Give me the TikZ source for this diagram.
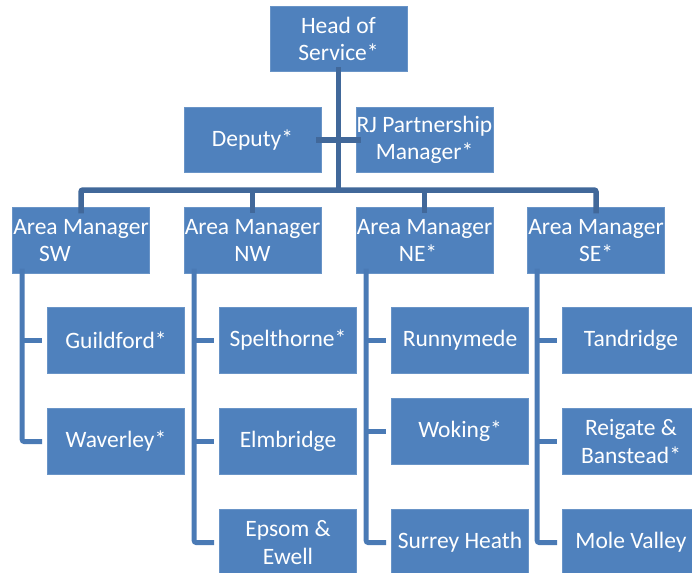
\documentclass[tikz,border=0pt]{standalone}
\usepackage{fontspec}
\setmainfont{Carlito}
\definecolor{boxblue}{HTML}{4F81BD}
\definecolor{topline}{HTML}{41689A}
\definecolor{subline}{HTML}{4A7AB5}
\begin{document}
\begin{tikzpicture}[x=1pt,y=-1pt,
  box/.style={fill=boxblue,draw=boxblue!85!white,line width=0.6pt,minimum width=137pt,minimum height=65.5pt,inner sep=0pt,
    text=white,align=center,font=\fontsize{23.5}{27.5}\selectfont},
  topc/.style={draw=topline,line width=5.5pt,rounded corners=2pt},
  subc/.style={draw=subline,line width=5pt,rounded corners=2pt}]
\useasboundingbox (0,0) rectangle (692,572);
\clip (0,0) rectangle (692,572);
% top level
\node[box] (head) at (338.5,39) {Head of\\Service*};
\node[box] (dep) at (252.5,140) {Deputy*};
\node[box] (rj) at (424.5,140) {RJ Partnership\\Manager*};
\node[box] (sw) at (81,240.5) {Area Manager\\\hspace*{-52pt}SW};
\node[box] (nw) at (252.5,240.5) {Area Manager\\NW};
\node[box] (ne) at (424.5,240.5) {Area Manager\\\hspace*{-13pt}NE*};
\node[box] (se) at (596,240.5) {Area Manager\\SE*};
% children
\node[box] (g) at (116,340.5) {Guildford*};
\node[box] (w) at (116,441.5) {Waverley*};
\node[box] (sp) at (288,340.5) {Spelthorne*};
\node[box] (el) at (288,441.5) {Elmbridge};
\node[box] (ep) at (288,542.5) {Epsom \&\\Ewell};
\node[box] (ru) at (460,340.5) {Runnymede};
\node[box] (wo) at (460,431.5) {Woking*};
\node[box] (sh) at (460,542.5) {Surrey Heath};
\node[box] (ta) at (631,340.5) {Tandridge};
\node[box] (rb) at (631,441.5) {Reigate \&\\Banstead*};
\node[box] (mv) at (631,542.5) {Mole Valley};
% coordinates
\coordinate (hb) at ([yshift=5pt]head.south);
\coordinate (bar) at (338.5,190);
\coordinate (sl) at ([xshift=-5pt]dep.east |- 0,140);
\coordinate (sr) at ([xshift=5pt]rj.west |- 0,140);
% top connectors
\draw[topc] (hb) -- (bar);
\draw[topc,rounded corners=0pt] (sl) -- (sr);
\draw[topc] ([yshift=-6pt]sw.north) -- (sw.north |- bar) -- (se.north |- bar) -- ([yshift=-6pt]se.north);
\draw[topc,rounded corners=0pt] (nw.north |- bar) -- ([yshift=-6pt]nw.north);
\draw[topc,rounded corners=0pt] (ne.north |- bar) -- ([yshift=-6pt]ne.north);
% sub connectors
\foreach \p/\lastc/\others in {sw/w/g, nw/ep/{sp,el}, ne/sh/{ru,wo}, se/mv/{ta,rb}}{
  \draw[subc] ([xshift=-25pt,yshift=5pt]\lastc.west |- \p.south) -- ([xshift=-25pt]\lastc.west) -- ([xshift=-5pt]\lastc.west);
  \foreach \c in \others {
    \draw[subc,rounded corners=0pt] ([xshift=-25pt]\c.west) -- ([xshift=-5pt]\c.west);
  }
}
\end{tikzpicture}
\end{document}
